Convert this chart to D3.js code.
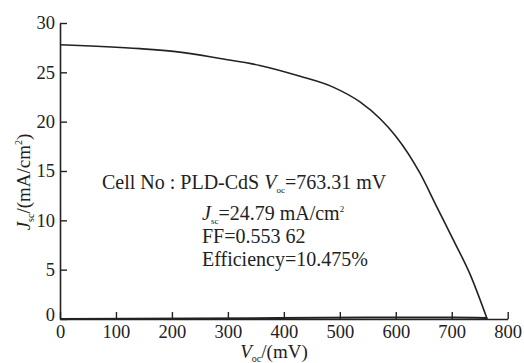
<!DOCTYPE html>
<html><head><meta charset="utf-8">
<script src="https://cdn.jsdelivr.net/npm/d3@7"></script>
<style>
svg, svg text, svg tspan { font-family: "Liberation Serif", "Times New Roman", Tinos, serif; }
</style>
</head><body style="margin:0;background:#fff">
<script>
const voltage = [0, 143, 214, 286, 357, 429, 488, 536, 572, 599, 643, 673, 703, 733, 763.31];
const currentDensity = [27.8, 27.4, 27.05, 26.4, 25.7, 24.6, 23.5, 22.0, 20.3, 18.6, 14.8, 11.4, 8.0, 4.5, 0];
const darkVoltage = [0, 240, 390, 550, 700, 763.31];
const darkCurrent = [0, 0.05, 0.1, 0.15, 0.15, 0.1];
const xTicks = [0, 100, 200, 300, 400, 500, 600, 700, 800];
const yTicks = [0, 5, 10, 15, 20, 25, 30];
const infoLines = ["J_sc=24.79  mA/cm²", "FF=0.553 62", "Efficiency=10.475%"];

const W = 524, H = 363;
const FONT = '"Liberation Serif", "Times New Roman", serif';
const ink = "#222";
const svg = d3.select("body").append("svg").attr("width", W).attr("height", H).style("display", "block");
const x = d3.scaleLinear().domain([0, 800]).range([60, 507.7]);
const y = d3.scaleLinear().domain([0, 30]).range([319, 23]);

const xa = svg.append("g").attr("transform", `translate(0,${y(0)})`)
  .call(d3.axisBottom(x).tickValues(xTicks).tickSizeInner(-7).tickSizeOuter(0).tickPadding(12));
const ya = svg.append("g").attr("transform", `translate(${x(0)},0)`)
  .call(d3.axisLeft(y).tickValues(yTicks).tickSizeInner(-7).tickSizeOuter(0).tickPadding(12));
[xa, ya].forEach(g => {
  g.attr("font-family", FONT);
  g.select(".domain").attr("stroke", ink).attr("stroke-width", 1.6);
  g.selectAll(".tick line").attr("stroke", ink).attr("stroke-width", 1.4);
  g.selectAll(".tick text").attr("font-size", 18.5).attr("fill", ink).style("font-family", FONT);
});
xa.selectAll(".tick text").attr("dy", "0.72em").attr("y", 6);
ya.selectAll(".tick text").attr("x", -5);
ya.selectAll(".tick").filter(d => d === 0).select("text").attr("dy", "0.1em");

const line = d3.line().x(d => x(d[0])).y(d => y(d[1])).curve(d3.curveMonotoneX);
svg.append("path").datum(voltage.map((v, i) => [v, currentDensity[i]]))
  .attr("d", line).attr("fill", "none").attr("stroke", ink).attr("stroke-width", 1.6);
svg.append("path").datum(darkVoltage.map((v, i) => [v, darkCurrent[i]]))
  .attr("d", line).attr("fill", "none").attr("stroke", ink).attr("stroke-width", 2);

function txt(xp, yp, size) {
  return svg.append("text").attr("x", xp).attr("y", yp).attr("font-size", size)
    .attr("fill", ink).style("font-family", FONT);
}

// axis titles
const xt = txt(274, 358, 19).attr("text-anchor", "middle");
xt.append("tspan").attr("font-style", "italic").text("V");
xt.append("tspan").attr("font-size", 10).attr("dy", 4).text("oc");
xt.append("tspan").attr("dy", -4).text("/(mV)");

const yt = svg.append("text").attr("transform", `translate(30,182) rotate(-90)`)
  .attr("text-anchor", "middle").attr("font-size", 19).attr("fill", ink).style("font-family", FONT);
yt.append("tspan").attr("font-style", "italic").text("J");
yt.append("tspan").attr("font-size", 10).attr("dy", 4).text("sc");
yt.append("tspan").attr("dy", -4).text("/(mA/cm");
yt.append("tspan").attr("font-size", 10).attr("dy", -8).text("2");
yt.append("tspan").attr("dy", 8).text(")");

// annotations
const fs = 20;
const t1 = txt(102, 189, fs);
t1.append("tspan").text("Cell No : PLD-CdS ");
t1.append("tspan").attr("font-style", "italic").text("V");
t1.append("tspan").attr("font-size", 9).attr("dy", 4).text("oc");
t1.append("tspan").attr("dy", -4).text("=763.31 mV");

const t2 = txt(202, 220, fs);
t2.append("tspan").attr("font-style", "italic").text("J");
t2.append("tspan").attr("font-size", 9).attr("dy", 4).text("sc");
t2.append("tspan").attr("dy", -4).text("=24.79  mA/cm");
t2.append("tspan").attr("font-size", 9).attr("dy", -8).text("2");

txt(202, 243, fs).text(infoLines[1]);
txt(202, 266, fs).text(infoLines[2]);
</script></body></html>
